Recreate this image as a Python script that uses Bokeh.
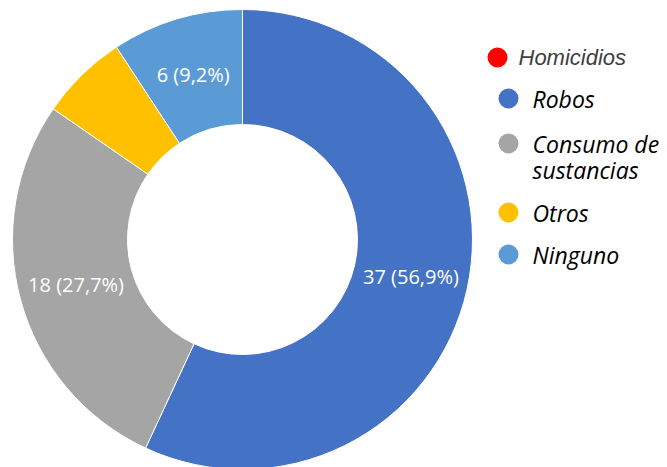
import numpy as np
from bokeh.plotting import figure
from bokeh.models import Range1d
from bokeh.core.properties import value
from bokeh.embed import file_html
from bokeh.resources import INLINE

# ---- data ----
categories = ["Homicidios", "Robos", "Consumo de sustancias", "Otros", "Ninguno"]
counts = [0, 37, 18, 4, 6]
colors = ["#FF0000", "#4472C4", "#A5A5A5", "#FFC000", "#5B9BD5"]
show_label = [False, True, True, False, True]
legend_lines = [["Homicidios"], ["Robos"], ["Consumo de", "sustancias"], ["Otros"], ["Ninguno"]]

W, H = 667, 467
p = figure(width=W, height=H, output_backend="svg", toolbar_location=None,
           x_range=Range1d(0, W), y_range=Range1d(0, H),
           min_border=0, outline_line_color=None)
p.axis.visible = False
p.grid.visible = False
p.background_fill_color = "white"
p.border_fill_color = "white"

cx, cy = 242, H - 239
r_out = 230
r_in = r_out * 0.5

total = sum(counts)
fr = np.array(counts) / total
cum = np.concatenate([[0], np.cumsum(fr)])
theta1 = cum[:-1] * 2 * np.pi  # clockwise from top
theta2 = cum[1:] * 2 * np.pi
start = np.pi / 2 - theta2
end = np.pi / 2 - theta1

for i in range(len(counts)):
    if counts[i] == 0:
        continue
    p.annular_wedge(x=cx, y=cy, inner_radius=r_in, outer_radius=r_out,
                    start_angle=start[i], end_angle=end[i],
                    fill_color=colors[i], line_color="white", line_width=1)

# data labels
r_lab = (r_in + r_out) / 2
lx, ly, lt = [], [], []
for i in range(len(counts)):
    if not show_label[i]:
        continue
    mid = (theta1[i] + theta2[i]) / 2
    lx.append(cx + r_lab * np.sin(mid))
    ly.append(cy + r_lab * np.cos(mid))
    pct = f"{fr[i]*100:.1f}".replace(".", ",")
    lt.append(f"{counts[i]} ({pct}%)")
p.text(x=lx, y=ly, text=lt, text_color="white", text_font=value("Open Sans"),
       text_font_size="20px", text_align="center", text_baseline="middle")

# legend
leg_y = [57, 98, 143, 212, 254]
for i, cat in enumerate(categories):
    y = H - leg_y[i]
    if i == 0:
        p.scatter(x=[497], y=[y], size=20, marker="circle", fill_color=colors[i], line_color=None)
        p.text(x=[518], y=[y], text=[legend_lines[i][0]], text_color="#404040",
               text_font=value("Liberation Sans"), text_font_style="italic",
               text_font_size="22px", text_align="left", text_baseline="middle")
    else:
        p.scatter(x=[508], y=[y], size=20, marker="circle", fill_color=colors[i], line_color=None)
        for j, ln in enumerate(legend_lines[i]):
            p.text(x=[532], y=[y - j * 26], text=[ln], text_color="black",
                   text_font=value("Open Sans"), text_font_style="italic",
                   text_font_size="23px", text_align="left", text_baseline="middle")

open("out.html", "w").write(file_html(p, INLINE))
